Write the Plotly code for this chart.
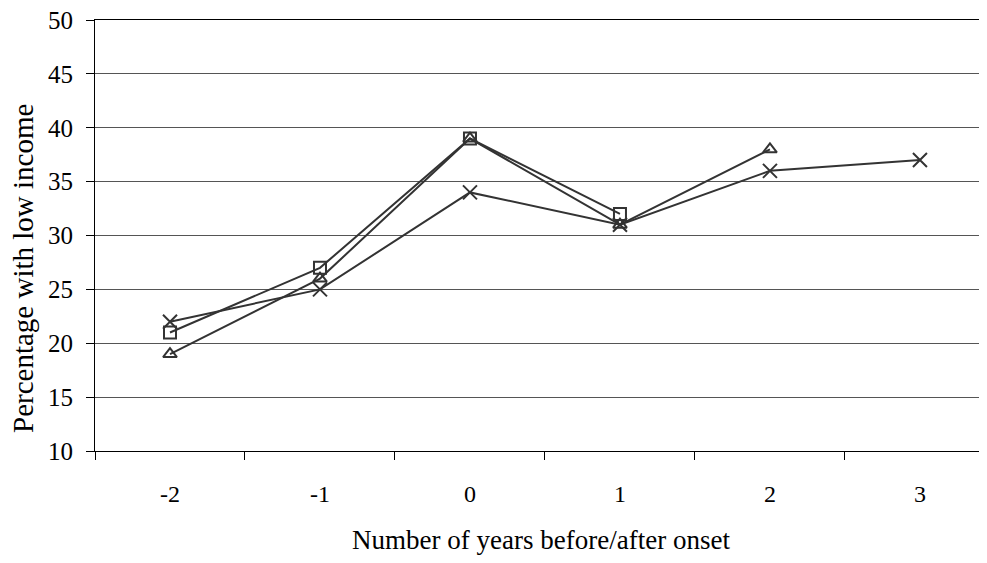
import plotly.graph_objects as go

categories = ["-2", "-1", "0", "1", "2", "3"]
series_square = [21, 27, 39, 32]
series_triangle = [19, 26, 39, 31, 38]
series_cross = [22, 25, 34, 31, 36, 37]
y_ticks = [10, 15, 20, 25, 30, 35, 40, 45, 50]

line_col = "#333333"
fig = go.Figure()
fig.add_trace(go.Scatter(x=categories[:len(series_cross)], y=series_cross, mode="lines+markers",
                         line=dict(color=line_col, width=2),
                         marker=dict(symbol="x-thin", size=14, line=dict(color=line_col, width=2))))
fig.add_trace(go.Scatter(x=categories[:len(series_triangle)], y=series_triangle, mode="lines+markers",
                         line=dict(color=line_col, width=2),
                         marker=dict(symbol="triangle-up-open", size=12, color=line_col, line=dict(width=2))))
fig.add_trace(go.Scatter(x=categories[:len(series_square)], y=series_square, mode="lines+markers",
                         line=dict(color=line_col, width=2),
                         marker=dict(symbol="square-open", size=12, color=line_col, line=dict(width=2))))

fig.update_layout(
    width=979, height=547,
    margin=dict(l=87, r=0, t=12, b=104),
    paper_bgcolor="white", plot_bgcolor="white",
    showlegend=False,
    font=dict(family="Liberation Serif", size=24, color="black"),
)
fig.add_annotation(text="Percentage with low income", textangle=-90,
                   xref="paper", yref="paper", x=0, y=0.4223,
                   xanchor="center", yanchor="middle", xshift=-72,
                   showarrow=False, font=dict(size=29, family="Liberation Serif", color="black"))
fig.update_xaxes(type="category", categoryorder="array", categoryarray=categories,
                 range=[-0.5, 5.447], tickson="boundaries", ticks="outside", ticklen=8,
                 tickcolor="black", showline=True, linecolor="black", linewidth=1, mirror=True,
                 showgrid=False, zeroline=False, ticklabelstandoff=21,
                 title=dict(text="Number of years before/after onset", font=dict(size=27), standoff=25),
                 tickfont=dict(size=24))
fig.update_yaxes(range=[10, 50], tickvals=y_ticks, ticks="outside", ticklen=8,
                 tickcolor="black", showline=True, linecolor="black", linewidth=1,
                 showgrid=True, gridcolor="#555555", gridwidth=1, zeroline=False,
                 ticklabelstandoff=8, ticklabeloverflow="allow",
                 tickfont=dict(size=25))
fig.write_html("out.html")
